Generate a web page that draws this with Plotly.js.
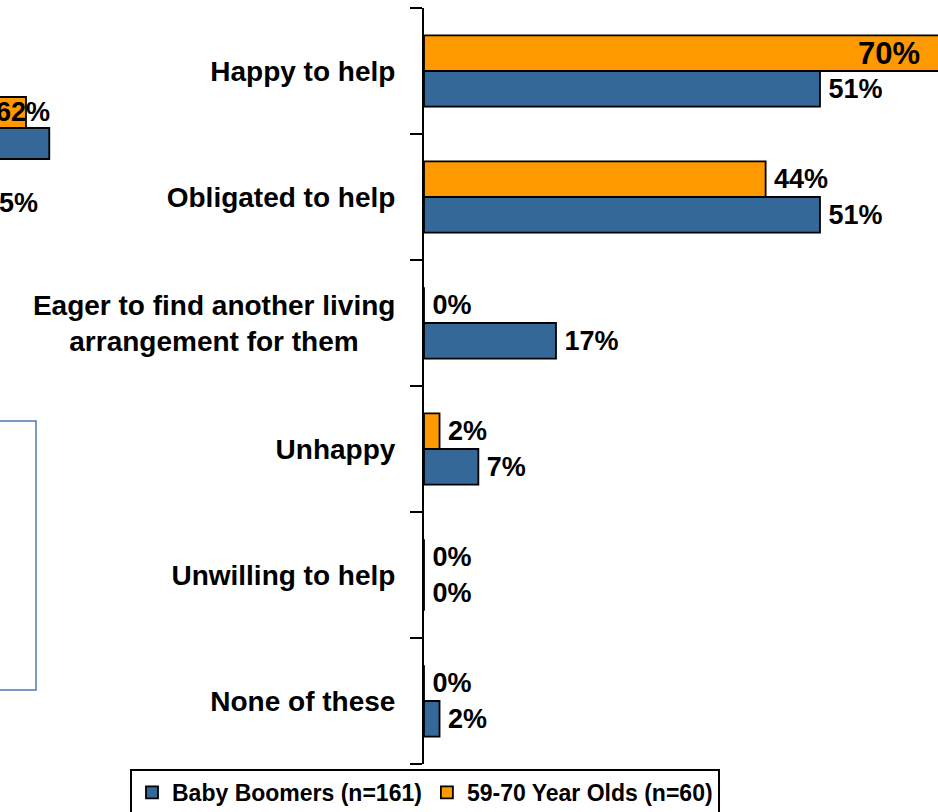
<!DOCTYPE html>
<html>
<head>
<meta charset="utf-8">
<script src="https://cdn.plot.ly/plotly-3.0.1.min.js"></script>
<style>
html,body{margin:0;padding:0;background:#fff;overflow:hidden;}
#chart{width:938px;height:812px;}
</style>
</head>
<body>
<div id="chart"></div>
<script>
// ---- Data (top to bottom order as in the picture) ----
var categories = [
  "Happy to help",
  "Obligated to help",
  "Eager to find another living<br>arrangement for them\u00a0\u00a0\u00a0\u00a0\u2009",
  "Unhappy",
  "Unwilling to help",
  "None of these"
];
var boomersName = "Baby Boomers (n=161)";
var olderName = "59-70 Year Olds (n=60)";
var boomersValues = [51, 51, 17, 7, 0, 2];
var olderValues   = [70, 44, 0, 2, 0, 0];

// fragment of the neighbouring chart visible at the left edge
var fragCategory = ["fragment"];
var fragOlder = [62];
var fragBoomers = [65];
var fragOlderLabel = "62%";
var fragBoomersLabel = "35%";

// ---- Styling ----
var W = 938, H = 812;
var plotTop = 8, plotBottom = 764, axisX = 424;
var xMax = 66.2;
var BLUE = "#346899", ORANGE = "#FF9900";
var FONT = "Liberation Sans, Arial, sans-serif";
var LABEL_SIZE = 27;

function ypaper(py){ return (plotBottom - py) / (plotBottom - plotTop); }

var catOrder = categories.slice().reverse();

function labels(vals){
  return vals.map(function(v){ return v > xMax ? "" : "\u2009" + v + "%"; });
}

var traces = [
  {
    type: "bar", orientation: "h", name: boomersName,
    y: categories, x: boomersValues,
    text: labels(boomersValues), textposition: "outside", cliponaxis: true,
    textfont: {family: FONT, size: LABEL_SIZE, color: "#000", weight: "bold"},
    constraintext: "none",
    marker: {color: BLUE, line: {color: "#000", width: 1.8}},
    hoverinfo: "skip"
  },
  {
    type: "bar", orientation: "h", name: olderName,
    y: categories, x: olderValues,
    text: labels(olderValues), textposition: "outside", cliponaxis: true,
    textfont: {family: FONT, size: LABEL_SIZE, color: "#000", weight: "bold"},
    constraintext: "none",
    marker: {color: ORANGE, line: {color: "#000", width: 1.8}},
    hoverinfo: "skip"
  },
  {
    type: "bar", orientation: "h", showlegend: false,
    y: fragCategory, x: fragBoomers, xaxis: "x2", yaxis: "y2",
    marker: {color: BLUE, line: {color: "#000", width: 1.8}}, hoverinfo: "skip"
  },
  {
    type: "bar", orientation: "h", showlegend: false,
    y: fragCategory, x: fragOlder, xaxis: "x2", yaxis: "y2",
    marker: {color: ORANGE, line: {color: "#000", width: 1.8}}, hoverinfo: "skip"
  }
];

var annotations = [];
// labels for bars running past the visible axis end
olderValues.forEach(function(v, i){
  if (v > xMax) annotations.push({
    x: xMax, y: categories[i], xref: "x", yref: "y",
    text: "<b>" + v + "%</b>", showarrow: false, xanchor: "right", yshift: 18,
    xshift: -16, font: {family: FONT, size: 31, color: "#000"}
  });
});
boomersValues.forEach(function(v, i){
  if (v > xMax) annotations.push({
    x: xMax, y: categories[i], xref: "x", yref: "y",
    text: "<b>" + v + "%</b>", showarrow: false, xanchor: "right", yshift: -18,
    xshift: -16, font: {family: FONT, size: 31, color: "#000"}
  });
});
// fragment labels
var fragStart = fragOlder[0] - 26 / 7.76;
annotations.push({
  x: fragOlder[0], y: fragCategory[0], xref: "x2", yref: "y2",
  text: "<b>" + fragOlderLabel + "</b>", showarrow: false, xanchor: "center",
  xshift: -3, yshift: 16, font: {family: FONT, size: LABEL_SIZE, color: "#000"}
});
annotations.push({
  x: 40 / W, y: ypaper(186), xref: "paper", yref: "paper",
  text: "<b>" + fragBoomersLabel + "</b>", showarrow: false, xanchor: "right",
  font: {family: FONT, size: LABEL_SIZE, color: "#000"}
});

var layout = {
  width: W, height: H,
  margin: {l: 0, r: 0, t: plotTop, b: H - plotBottom, pad: 0},
  paper_bgcolor: "#fff", plot_bgcolor: "rgba(0,0,0,0)",
  barmode: "group", bargap: 0.433, bargroupgap: 0,
  font: {family: FONT, color: "#000"},
  showlegend: true,
  xaxis: {
    domain: [axisX / W, 1], range: [0, xMax],
    visible: false, fixedrange: true
  },
  yaxis: {
    type: "category", categoryorder: "array", categoryarray: catOrder,
    showline: true, linecolor: "#000", linewidth: 2,
    ticks: "outside", tickson: "boundaries", ticklen: 12, tickwidth: 2, tickcolor: "#000",
    tickfont: {family: FONT, size: 28, color: "#000", weight: "bold"},
    ticklabelstandoff: 21,
    showgrid: false, zeroline: false, fixedrange: true,
    anchor: "x"
  },
  xaxis2: {
    domain: [0, 60 / W], range: [fragStart, fragStart + 60 / 7.76],
    visible: false, anchor: "y2", fixedrange: true
  },
  yaxis2: {
    domain: [ypaper(182.7), ypaper(73.3)], type: "category",
    visible: false, anchor: "x2", fixedrange: true
  },
  legend: {
    orientation: "h", xref: "container", yref: "container",
    x: 130 / W, y: 1 - 769 / H, xanchor: "left", yanchor: "top",
    bordercolor: "#000", borderwidth: 2, bgcolor: "#fff",
    font: {family: FONT, size: 23, color: "#000", weight: "bold"},
    traceorder: "normal", itemwidth: 30
  },
  shapes: [
    {type: "rect", xref: "paper", yref: "paper",
     x0: -0.02, x1: 36 / W, y0: ypaper(690), y1: ypaper(421),
     line: {color: "#4F78B0", width: 1.5}, fillcolor: "rgba(0,0,0,0)"}
  ],
  annotations: annotations
};

Plotly.newPlot("chart", traces, layout, {displayModeBar: false, staticPlot: true});
</script>
</body>
</html>
